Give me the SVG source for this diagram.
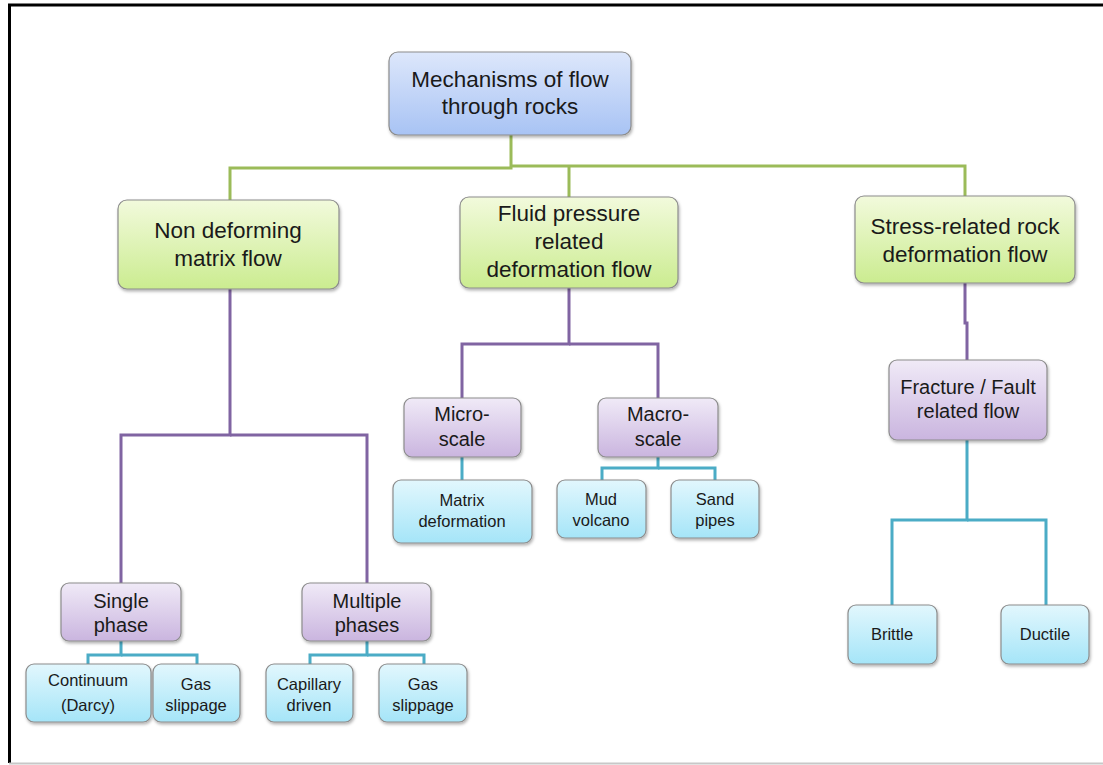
<svg xmlns="http://www.w3.org/2000/svg" width="1103" height="765" viewBox="0 0 1103 765">
<defs>
<linearGradient id="gBlue" x1="0" y1="0" x2="0" y2="1"><stop offset="0" stop-color="#dde7fb"/><stop offset="1" stop-color="#a8c3f4"/></linearGradient>
<linearGradient id="gGreen" x1="0" y1="0" x2="0" y2="1"><stop offset="0" stop-color="#f2fadc"/><stop offset="1" stop-color="#cbec90"/></linearGradient>
<linearGradient id="gPurple" x1="0" y1="0" x2="0" y2="1"><stop offset="0" stop-color="#f0eaf7"/><stop offset="1" stop-color="#cab5df"/></linearGradient>
<linearGradient id="gCyan" x1="0" y1="0" x2="0" y2="1"><stop offset="0" stop-color="#e2f7fd"/><stop offset="1" stop-color="#a5e5f8"/></linearGradient>
<filter id="sh" x="-10%" y="-10%" width="125%" height="130%"><feDropShadow dx="1" dy="2" stdDeviation="1.5" flood-color="#000" flood-opacity="0.3"/></filter>
</defs>
<style>
.box{stroke:#8c8c8c;stroke-width:1.2;filter:url(#sh)}
.blue{fill:url(#gBlue)}
.green{fill:url(#gGreen)}
.purple{fill:url(#gPurple)}
.cyan{fill:url(#gCyan)}
text{font-family:"Liberation Sans",Arial,sans-serif;fill:#1a1a1a;text-anchor:middle}
.t1{font-size:22.5px}
.t2{font-size:20px}
.t3{font-size:16.5px}
.cg{stroke:#9bbb59;stroke-width:3;fill:none}
.cp{stroke:#8064a2;stroke-width:3;fill:none}
.cc{stroke:#4bacc6;stroke-width:3;fill:none}
</style>
<rect x="0" y="0" width="1103" height="765" fill="#fff"/>
<path d="M9.5 763 V5 H1103" fill="none" stroke="#000" stroke-width="3"/>
<line x1="9" y1="763.5" x2="1103" y2="763.5" stroke="#c8c8c8" stroke-width="2"/>
<g id="connectors">
<path class="cg" d="M511 135 V168 H230 V200"/>
<path class="cg" d="M511 166 H965 V197"/>
<path class="cg" d="M569 166 V198"/>
<path class="cp" d="M230 289 V435 H121 V583"/>
<path class="cp" d="M230 435 H367 V583"/>
<path class="cp" d="M569 288 V344 H462 V398"/>
<path class="cp" d="M569 344 H658 V398"/>
<path class="cp" d="M965 283 V323 H967 V360"/>
<path class="cc" d="M462 457 V480"/>
<path class="cc" d="M658 457 V468 H602 V480"/>
<path class="cc" d="M658 468 H715 V480"/>
<path class="cc" d="M967 440 V520 H892 V605"/>
<path class="cc" d="M967 520 H1046 V605"/>
<path class="cc" d="M121 641 V655 H88 V664"/>
<path class="cc" d="M121 655 H197 V664"/>
<path class="cc" d="M367 641 V655 H310 V664"/>
<path class="cc" d="M367 655 H424 V664"/>
</g>
<g id="root"><rect class="box blue" x="389" y="52" width="242" height="83" rx="9"/><text class="t1" x="510" y="87">Mechanisms of flow</text><text class="t1" x="510" y="114">through rocks</text></g>
<g id="nonDeforming"><rect class="box green" x="118" y="200" width="221" height="89" rx="9"/><text class="t1" x="228" y="238">Non deforming</text><text class="t1" x="228" y="266">matrix flow</text></g>
<g id="fluidPressure"><rect class="box green" x="460" y="197" width="218" height="91" rx="9"/><text class="t1" x="569" y="221">Fluid pressure</text><text class="t1" x="569" y="249">related</text><text class="t1" x="569" y="277">deformation flow</text></g>
<g id="stressRelated"><rect class="box green" x="855" y="196" width="220" height="87" rx="9"/><text class="t1" x="965" y="234">Stress-related rock</text><text class="t1" x="965" y="262">deformation flow</text></g>
<g id="microScale"><rect class="box purple" x="404" y="398" width="117" height="59" rx="8"/><text class="t2" x="462" y="421">Micro-</text><text class="t2" x="462" y="446">scale</text></g>
<g id="macroScale"><rect class="box purple" x="598" y="398" width="120" height="59" rx="8"/><text class="t2" x="658" y="421">Macro-</text><text class="t2" x="658" y="446">scale</text></g>
<g id="fracture"><rect class="box purple" x="889" y="360" width="158" height="80" rx="8"/><text class="t2" x="968" y="394">Fracture / Fault</text><text class="t2" x="968" y="418">related flow</text></g>
<g id="singlePhase"><rect class="box purple" x="61" y="583" width="120" height="58" rx="8"/><text class="t2" x="121" y="608">Single</text><text class="t2" x="121" y="632">phase</text></g>
<g id="multiplePhases"><rect class="box purple" x="302" y="583" width="129" height="58" rx="8"/><text class="t2" x="367" y="608">Multiple</text><text class="t2" x="367" y="632">phases</text></g>
<g id="matrixDeformation"><rect class="box cyan" x="393" y="480" width="139" height="63" rx="8"/><text class="t3" x="462" y="506">Matrix</text><text class="t3" x="462" y="527">deformation</text></g>
<g id="mudVolcano"><rect class="box cyan" x="557" y="480" width="89" height="58" rx="8"/><text class="t3" x="601" y="505">Mud</text><text class="t3" x="601" y="526">volcano</text></g>
<g id="sandPipes"><rect class="box cyan" x="671" y="480" width="88" height="58" rx="8"/><text class="t3" x="715" y="505">Sand</text><text class="t3" x="715" y="526">pipes</text></g>
<g id="brittle"><rect class="box cyan" x="848" y="605" width="89" height="59" rx="8"/><text class="t3" x="892" y="640">Brittle</text></g>
<g id="ductile"><rect class="box cyan" x="1001" y="605" width="88" height="59" rx="8"/><text class="t3" x="1045" y="640">Ductile</text></g>
<g id="continuum"><rect class="box cyan" x="26" y="664" width="125" height="58" rx="8"/><text class="t3" x="88" y="686">Continuum</text><text class="t3" x="88" y="711">(Darcy)</text></g>
<g id="gasSlippage1"><rect class="box cyan" x="153" y="664" width="87" height="58" rx="8"/><text class="t3" x="196" y="690">Gas</text><text class="t3" x="196" y="711">slippage</text></g>
<g id="capillary"><rect class="box cyan" x="266" y="664" width="87" height="58" rx="8"/><text class="t3" x="309" y="690">Capillary</text><text class="t3" x="309" y="711">driven</text></g>
<g id="gasSlippage2"><rect class="box cyan" x="379" y="664" width="88" height="58" rx="8"/><text class="t3" x="423" y="690">Gas</text><text class="t3" x="423" y="711">slippage</text></g>
</svg>
